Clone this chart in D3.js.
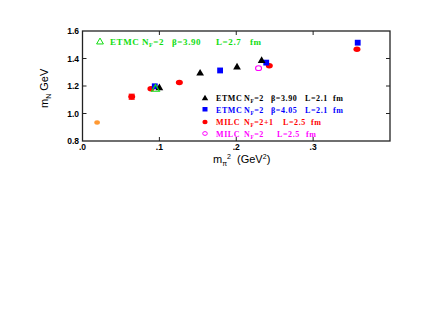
<!DOCTYPE html>
<html>
<head>
<meta charset="utf-8">
<script src="https://cdn.jsdelivr.net/npm/d3@7/dist/d3.min.js"></script>
<style>
  body { margin: 0; background: #fff; }
  text { font-family: "Liberation Sans", Arial, sans-serif; }
  .leg { font-family: "Liberation Serif", "Times New Roman", serif; font-weight: bold; letter-spacing: 0.6px; }
</style>
</head>
<body>
<svg width="436" height="327"></svg>
<script>
// m_N vs m_pi^2 data
const xTicks = [0, 0.1, 0.2, 0.3];
const xTickLabels = [".0", ".1", ".2", ".3"];
const yTicks = [0.8, 1.0, 1.2, 1.4, 1.6];
const yTickLabels = ["0.8", "1.0", "1.2", "1.4", "1.6"];

// ETMC Nf=2 beta=3.90 L=2.7 fm (green open triangle)
const etmc390L27 = [[0.095, 1.178]];
// ETMC Nf=2 beta=3.90 L=2.1 fm (black triangles)
const etmc390 = [[0.100, 1.186], [0.153, 1.292], [0.201, 1.336], [0.233, 1.384]];
// ETMC Nf=2 beta=4.05 L=2.1 fm (blue squares)
const etmc405 = [[0.094, 1.198], [0.179, 1.313], [0.239, 1.370], [0.358, 1.515]];
// MILC Nf=2+1 L=2.5 fm (red circles) [x, y, err]
const milc21 = [[0.064, 1.122, 0.018], [0.089, 1.180, 0], [0.126, 1.226, 0], [0.243, 1.347, 0], [0.357, 1.467, 0]];
// MILC Nf=2 L=2.5 fm (magenta open circle)
const milc2 = [[0.229, 1.330]];
// physical point (orange)
const physical = [[0.019, 0.935]];

const svg = d3.select("svg");
const pl = 82.5, pr = 390, pt = 31, pb = 141;

const x = d3.scaleLinear().domain([0, 0.4]).range([pl, pr]);
const y = d3.scaleLinear().domain([0.8, 1.6]).range([pb, pt]);

// frame
svg.append("rect").attr("x", pl).attr("y", pt)
  .attr("width", pr - pl).attr("height", pb - pt)
  .attr("fill", "none").attr("stroke", "#222").attr("stroke-width", 1.3);

// inward ticks
const tl = 4;
xTicks.slice(1).forEach(t => {
  svg.append("line").attr("x1", x(t)).attr("x2", x(t)).attr("y1", pb).attr("y2", pb - tl).attr("stroke", "#222");
  svg.append("line").attr("x1", x(t)).attr("x2", x(t)).attr("y1", pt).attr("y2", pt + tl).attr("stroke", "#222");
});
yTicks.slice(1, -1).forEach(t => {
  svg.append("line").attr("x1", pl).attr("x2", pl + tl).attr("y1", y(t)).attr("y2", y(t)).attr("stroke", "#222");
  svg.append("line").attr("x1", pr).attr("x2", pr - tl).attr("y1", y(t)).attr("y2", y(t)).attr("stroke", "#222");
});

// tick labels
svg.selectAll(".xl").data(xTicks).join("text")
  .attr("x", d => x(d)).attr("y", 150)
  .attr("text-anchor", "middle").attr("font-size", 8.5).attr("font-weight", "bold")
  .text((d, i) => xTickLabels[i]);
svg.selectAll(".yl").data(yTicks).join("text")
  .attr("x", 79).attr("y", d => y(d) + 3)
  .attr("text-anchor", "end").attr("font-size", 8.5).attr("font-weight", "bold")
  .text((d, i) => yTickLabels[i]);

// axis titles
const xt = svg.append("text").attr("x", 213).attr("y", 163).attr("font-size", 11).attr("xml:space", "preserve");
xt.append("tspan").text("m");
xt.append("tspan").attr("font-size", 7).attr("dy", 2.5).text("π");
xt.append("tspan").attr("font-size", 7).attr("dy", -7).text("2");
xt.append("tspan").attr("dy", 4.5).text("  (GeV");
xt.append("tspan").attr("font-size", 7).attr("dy", -4).text("2");
xt.append("tspan").attr("dy", 4).text(")");

const yt = svg.append("text").attr("transform", "translate(48,108) rotate(-90)").attr("font-size", 11).attr("xml:space", "preserve");
yt.append("tspan").text("m");
yt.append("tspan").attr("font-size", 7).attr("dy", 3).text("N");
yt.append("tspan").attr("dy", -3).text(" GeV");

// markers
const tri = d3.symbol().type(d3.symbolTriangle).size(26);
const sq = d3.symbol().type(d3.symbolSquare).size(34);

// error bars
milc21.filter(d => d[2] > 0).forEach(d => {
  const g = svg.append("g").attr("stroke", "red").attr("stroke-width", 1.2);
  g.append("line").attr("x1", x(d[0])).attr("x2", x(d[0])).attr("y1", y(d[1] - d[2])).attr("y2", y(d[1] + d[2]));
  [d[1] - d[2], d[1] + d[2]].forEach(v => g.append("line").attr("x1", x(d[0]) - 3).attr("x2", x(d[0]) + 3).attr("y1", y(v)).attr("y2", y(v)));
});

svg.selectAll(".milc21").data(milc21).join("ellipse")
  .attr("cx", d => x(d[0])).attr("cy", d => y(d[1])).attr("rx", 3.5).attr("ry", 2.7).attr("fill", "red");
svg.selectAll(".etmc405").data(etmc405).join("path")
  .attr("d", sq).attr("transform", d => `translate(${x(d[0])},${y(d[1])})`).attr("fill", "blue");
svg.selectAll(".etmc390").data(etmc390).join("path")
  .attr("d", tri).attr("transform", d => `translate(${x(d[0])},${y(d[1])})`).attr("fill", "black");
svg.selectAll(".etmc390L27").data(etmc390L27).join("path")
  .attr("d", tri).attr("transform", d => `translate(${x(d[0])},${y(d[1])})`)
  .attr("fill", "none").attr("stroke", "#1d1").attr("stroke-width", 1.2);
svg.selectAll(".milc2").data(milc2).join("ellipse")
  .attr("cx", d => x(d[0])).attr("cy", d => y(d[1])).attr("rx", 3).attr("ry", 2.4)
  .attr("fill", "none").attr("stroke", "magenta").attr("stroke-width", 1.1);
svg.selectAll(".phys").data(physical).join("ellipse")
  .attr("cx", d => x(d[0])).attr("cy", d => y(d[1])).attr("rx", 2.8).attr("ry", 2.2).attr("fill", "#f93");

// legends
function legText(xs, yb, parts, color, size) {
  parts.forEach((p, i) => {
    const t = svg.append("text").attr("class", "leg").attr("x", xs[i]).attr("y", yb)
      .attr("font-size", size).attr("fill", color);
    if (p.startsWith("N")) {
      t.append("tspan").text("N");
      t.append("tspan").attr("font-size", size * 0.65).attr("dy", 2).text("F");
      t.append("tspan").attr("dy", -2).text(p.slice(1));
    } else t.text(p);
  });
}

// top-left green entry
svg.append("path").attr("d", d3.symbol().type(d3.symbolTriangle).size(20))
  .attr("transform", "translate(100,42)").attr("fill", "none").attr("stroke", "#1d1").attr("stroke-width", 1);
legText([110, 142, 172, 216, 250], 45, ["ETMC", "N=2", "β=3.90", "L=2.7", "fm"], "#1d1", 9);

const lx = [216, 244, 271, 305, 333];
svg.append("path").attr("d", d3.symbol().type(d3.symbolTriangle).size(18)).attr("transform", "translate(205,98.5)").attr("fill", "black");
legText(lx, 101, ["ETMC", "N=2", "β=3.90", "L=2.1", "fm"], "black", 8);
svg.append("rect").attr("x", 202.5).attr("y", 107).attr("width", 5).attr("height", 4.5).attr("fill", "blue");
legText(lx, 112.5, ["ETMC", "N=2", "β=4.05", "L=2.1", "fm"], "blue", 8);
svg.append("ellipse").attr("cx", 205).attr("cy", 122).attr("rx", 2.6).attr("ry", 2.2).attr("fill", "red");
legText([216, 244, 283, 311], 125, ["MILC", "N=2+1", "L=2.5", "fm"], "red", 8);
svg.append("ellipse").attr("cx", 205).attr("cy", 133.5).attr("rx", 2.3).attr("ry", 1.9).attr("fill", "none").attr("stroke", "magenta");
legText([216, 244, 277, 306], 136.5, ["MILC", "N=2", "L=2.5", "fm"], "magenta", 8);
</script>
</body>
</html>
